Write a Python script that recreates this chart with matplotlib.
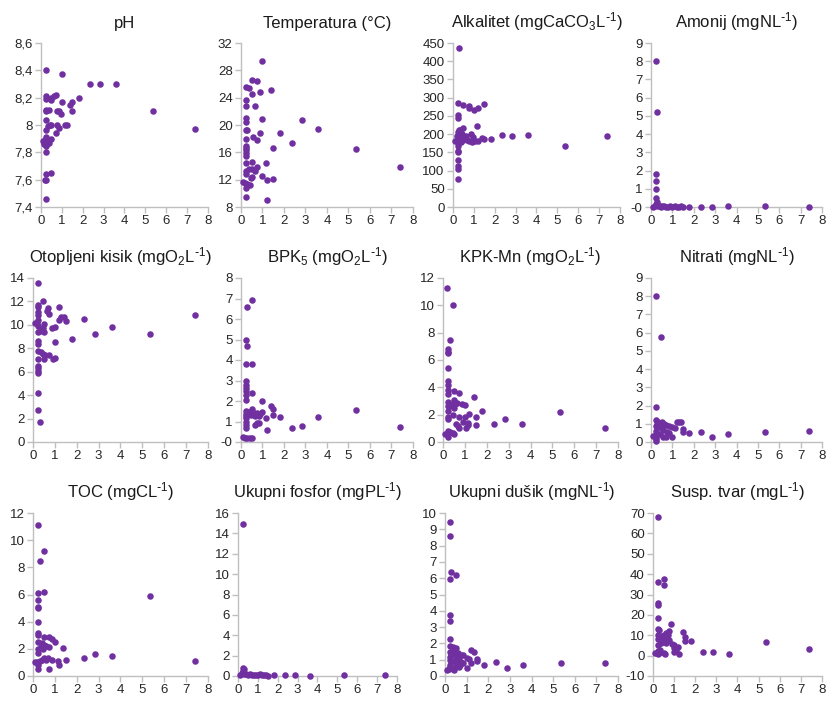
import matplotlib
matplotlib.use("Agg")
import matplotlib.pyplot as plt
from matplotlib.ticker import FuncFormatter, MultipleLocator

plt.rcParams['font.family'] = ['Liberation Sans', 'DejaVu Sans']
plt.rcParams['mathtext.default'] = 'regular'

PURPLE = "#7030A0"
GRID = "#BFBFBF"

# pH
ph_x = [0.25, 1.0, 2.35, 2.85, 3.6, 0.25, 0.25, 0.5, 0.6, 0.7, 0.5, 1.8, 1.0, 1.4, 1.5,
        0.25, 0.25, 0.4, 0.75, 0.85, 0.95, 1.5, 5.35, 0.25, 0.45, 0.5, 0.35, 0.75, 0.85, 1.15, 1.25,
        0.25, 0.7, 7.4, 0.1, 0.2, 0.25, 0.3, 0.4, 0.5, 0.25, 0.15, 0.25, 0.25, 0.5, 0.25, 0.2, 0.25]
ph_y = [8.40, 8.37, 8.30, 8.30, 8.30, 8.21, 8.19, 8.20, 8.21, 8.22, 8.18, 8.20, 8.17, 8.15, 8.17,
        8.11, 8.10, 8.11, 8.10, 8.10, 8.08, 8.10, 8.10, 8.04, 8.00, 8.00, 7.99, 8.00, 7.98, 8.00, 8.00,
        7.96, 7.94, 7.97, 7.88, 7.89, 7.91, 7.87, 7.87, 7.90, 7.85, 7.86, 7.80, 7.64, 7.65, 7.60, 7.60, 7.46]

# Temperatura
temp_x = [1.0, 0.5, 0.75, 0.25, 0.35, 1.4, 0.9, 0.5, 0.25, 0.25, 0.65, 0.25, 0.25, 1.0, 2.85, 3.6,
          0.25, 0.3, 0.9, 1.8, 0.55, 0.25, 0.75, 2.35, 0.25, 0.25, 0.25, 1.5, 5.35, 0.25, 0.25, 0.25,
          0.5, 1.15, 0.75, 7.4, 0.25, 0.35, 0.5, 0.65, 0.25, 0.5, 1.0, 0.45, 1.2, 1.5, 0.1, 0.2, 0.3,
          0.4, 0.25, 0.25, 1.2]
temp_y = [29.3, 26.6, 26.5, 25.5, 25.4, 25.1, 24.8, 24.5, 23.6, 22.8, 22.8, 21.0, 20.5, 20.9, 20.7, 19.4,
          19.3, 19.2, 18.9, 18.9, 18.3, 17.9, 17.8, 17.4, 17.0, 16.7, 16.3, 16.6, 16.5, 15.9, 15.5, 14.5,
          14.6, 14.5, 13.9, 13.8, 13.3, 13.5, 13.6, 13.2, 12.8, 12.4, 12.5, 12.2, 12.0, 12.1, 11.7, 11.5, 11.3,
          11.2, 10.8, 9.4, 9.0]

# Alkalitet
alk_x = [0.3, 0.25, 0.5, 0.75, 0.75, 1.0, 1.2, 1.5, 0.25, 0.25, 1.15, 0.5, 0.3, 0.25, 0.35, 0.45,
         0.6, 0.85, 0.95, 1.4, 2.35, 2.85, 3.6, 7.4, 0.1, 0.25, 0.35, 0.5, 0.65, 0.75, 0.9, 1.05,
         1.2, 1.5, 1.8, 0.25, 0.25, 5.35, 0.25, 0.25, 0.25, 0.25, 0.25, 0.25, 0.2, 0.4, 0.55]
alk_y = [435, 285, 280, 278, 272, 265, 272, 283, 252, 245, 222, 218, 212, 205, 210, 200,
         195, 200, 193, 190, 198, 195, 198, 195, 182, 185, 190, 183, 185, 180, 178, 180,
         180, 186, 186, 175, 168, 168, 155, 150, 128, 112, 105, 78, 195, 178, 190]

# Amonij
amo_x = [0.25, 0.27, 0.25, 0.25, 0.22, 0.25, 0.3, 0.25, 0.1, 0.2, 0.3, 0.35, 0.4, 0.45, 0.5,
         0.6, 0.7, 0.8, 0.9, 1.0, 1.1, 1.2, 1.3, 1.4, 1.5, 1.8, 2.35, 2.85, 3.6, 5.35, 7.4]
amo_y = [8.0, 5.2, 1.8, 1.45, 1.0, 0.5, 0.3, 0.15, 0.0, 0.05, 0.1, 0.05, 0.08, 0.02, 0.05,
         0.03, 0.0, 0.02, 0.05, 0.0, 0.03, 0.0, 0.02, 0.05, 0.0, 0.0, -0.02, -0.02, 0.08, 0.05, -0.02]

# Otopljeni kisik
o2_x = [0.25, 0.45, 0.25, 0.25, 0.7, 0.65, 1.2, 0.25, 0.75, 0.25, 1.3, 1.4, 7.4, 0.25, 0.1, 0.2,
        1.2, 1.5, 2.35, 0.5, 0.25, 1.0, 0.85, 3.6, 0.35, 0.45, 0.3, 0.5, 0.25, 2.85, 5.35, 1.8,
        1.0, 0.25, 0.25, 0.25, 0.35, 0.45, 0.55, 0.75, 0.5, 0.9, 1.0, 0.25, 0.25, 0.25, 0.25,
        0.25, 0.25, 0.25, 0.3]
o2_y = [13.6, 12.0, 11.7, 11.5, 11.4, 11.2, 11.5, 11.1, 10.9, 10.8, 10.7, 10.7, 10.85, 10.4, 10.2, 10.2,
        10.4, 10.3, 10.5, 10.1, 9.9, 9.8, 9.7, 9.8, 9.6, 9.7, 9.5, 9.4, 9.4, 9.2, 9.2, 8.8,
        8.5, 8.6, 8.4, 7.8, 7.7, 7.5, 7.4, 7.4, 7.1, 7.1, 7.2, 7.1, 6.5, 6.3, 6.1,
        5.9, 4.2, 2.7, 1.7]

# BPK5
bpk_x = [0.5, 0.3, 0.25, 0.28, 0.25, 0.5, 0.25, 0.25, 0.25, 0.25, 0.5, 0.25, 0.25, 1.0, 1.4, 0.25,
         0.5, 1.5, 5.35, 0.35, 0.6, 0.75, 0.9, 1.0, 0.25, 0.45, 0.65, 0.85, 1.5, 0.25, 1.15, 1.8,
         3.6, 0.25, 0.75, 0.85, 0.65, 0.25, 0.25, 2.35, 2.85, 7.4, 1.2, 0.1, 0.2, 0.3, 0.4, 0.5, 0.25]
bpk_y = [6.95, 6.6, 5.0, 4.7, 3.8, 3.8, 3.0, 2.8, 2.65, 2.5, 2.4, 2.3, 2.05, 2.0, 1.75, 1.5,
         1.6, 1.6, 1.55, 1.45, 1.4, 1.4, 1.35, 1.45, 1.35, 1.3, 1.25, 1.25, 1.3, 1.15, 1.15, 1.2,
         1.2, 1.0, 0.95, 0.95, 0.85, 0.85, 0.7, 0.7, 0.8, 0.75, 0.6, 0.25, 0.2, 0.2, 0.2, 0.2, 1.25]

# KPK-Mn
kpk_x = [0.2, 0.45, 0.3, 0.25, 0.25, 0.25, 0.25, 0.25, 0.25, 0.25, 0.5, 0.75, 0.25, 1.4, 0.5, 0.25,
         0.3, 0.55, 0.65, 0.85, 1.0, 0.25, 0.4, 0.5, 0.25, 1.8, 5.35, 1.2, 0.45, 0.25, 0.25, 0.75,
         1.5, 1.0, 2.85, 0.9, 1.15, 0.6, 0.7, 1.5, 1.15, 2.35, 3.6, 1.05, 0.75, 7.4, 0.25, 0.3,
         0.1, 0.2, 0.45, 0.5, 0.25]
kpk_y = [11.3, 10.0, 7.5, 6.8, 6.6, 6.5, 5.4, 4.5, 4.2, 3.8, 3.75, 3.6, 3.5, 3.3, 3.1, 2.9,
         2.8, 2.8, 2.85, 2.8, 2.7, 2.6, 2.6, 2.5, 2.3, 2.3, 2.2, 2.05, 2.0, 1.85, 1.7, 1.8,
         1.85, 1.8, 1.7, 1.5, 1.4, 1.3, 1.2, 1.25, 1.25, 1.3, 1.35, 1.05, 1.05, 1.0, 0.8, 0.7,
         0.6, 0.55, 0.65, 0.6, 0.35]

# Nitrati
nit_x = [0.25, 0.45, 0.25, 0.25, 0.35, 0.5, 0.45, 0.6, 0.7, 0.85, 1.0, 1.2, 1.3, 1.4, 1.1, 0.25,
         0.35, 0.5, 0.55, 0.25, 1.5, 1.5, 0.75, 0.4, 0.25, 0.1, 0.25, 0.55, 0.7, 1.0, 0.25, 0.25,
         1.8, 2.35, 2.85, 3.6, 5.35, 7.4, 0.85, 0.3]
nit_y = [8.0, 5.75, 1.9, 1.2, 1.1, 1.1, 1.0, 1.0, 0.95, 0.9, 0.85, 1.1, 1.1, 1.1, 0.75, 0.9,
         0.8, 0.75, 0.65, 0.6, 0.7, 0.55, 0.55, 0.45, 0.45, 0.35, 0.3, 0.3, 0.3, 0.3, 0.15, 0.05,
         0.5, 0.55, 0.25, 0.42, 0.55, 0.62, 0.5, 1.0]

# TOC
toc_x = [0.25, 0.5, 0.3, 0.25, 0.5, 5.35, 0.25, 0.25, 0.25, 0.25, 0.25, 0.25, 0.5, 0.75, 0.85, 1.0,
         0.25, 0.4, 0.5, 0.6, 0.35, 0.45, 0.25, 0.75, 1.35, 0.25, 2.85, 3.6, 0.5, 0.6, 0.7, 0.85,
         1.5, 2.35, 1.15, 0.1, 0.2, 0.3, 0.4, 7.4, 0.25, 1.2, 0.25, 0.75]
toc_y = [11.1, 9.2, 8.5, 6.1, 6.2, 5.9, 5.6, 5.05, 5.0, 4.0, 3.15, 3.0, 2.9, 2.85, 2.7, 2.5,
         2.5, 2.4, 2.3, 2.2, 2.1, 2.0, 2.0, 2.1, 2.05, 1.7, 1.6, 1.5, 1.3, 1.2, 1.3, 1.2,
         1.2, 1.3, 1.1, 1.0, 1.0, 1.1, 1.15, 1.1, 0.8, 0.8, 0.5, 0.5]

# Ukupni fosfor
fos_x = [0.25, 0.25, 0.3, 0.25, 0.2, 0.1, 0.3, 0.4, 0.5, 0.6, 0.7, 0.8, 0.9, 1.0, 1.1, 1.2,
         1.3, 1.4, 1.5, 1.8, 2.35, 2.85, 3.6, 5.35, 7.4]
fos_y = [14.9, 0.8, 0.7, 0.45, 0.3, 0.05, 0.15, 0.2, 0.1, 0.15, 0.05, 0.1, 0.05, 0.1, 0.15, 0.05,
         0.1, 0.05, 0.0, 0.05, 0.05, 0.05, 0.0, 0.05, 0.05]

# Ukupni dusik
dus_x = [0.25, 0.25, 0.3, 0.5, 0.25, 0.25, 0.25, 0.25, 0.25, 0.35, 0.5, 1.2, 1.35, 0.25, 0.4, 0.6,
         0.75, 0.85, 0.3, 0.5, 0.25, 0.65, 1.0, 1.1, 1.5, 1.5, 0.25, 0.4, 0.55, 0.75, 0.85, 1.2,
         2.35, 5.35, 7.4, 0.25, 0.5, 0.65, 1.8, 3.6, 1.0, 2.85, 0.1, 0.2, 0.35, 0.4, 0.25, 0.7]
dus_y = [9.45, 8.6, 6.35, 6.2, 5.95, 3.75, 3.4, 2.25, 1.85, 1.75, 1.7, 1.6, 1.45, 1.5, 1.45, 1.4,
         1.3, 1.3, 1.3, 1.2, 1.15, 1.1, 1.1, 1.05, 1.05, 0.95, 1.0, 0.95, 0.9, 0.85, 0.8, 0.8,
         0.85, 0.8, 0.8, 0.7, 0.65, 0.55, 0.65, 0.65, 0.5, 0.5, 0.35, 0.4, 0.45, 0.35, 0.55, 0.7]

# Susp. tvar
sus_x = [0.25, 0.5, 0.25, 0.5, 0.25, 0.25, 0.25, 0.25, 0.3, 0.85, 0.75, 1.4, 0.6, 0.5, 0.7, 0.25,
         0.4, 0.3, 0.6, 1.5, 0.25, 0.5, 0.75, 1.5, 1.8, 0.4, 0.6, 0.9, 1.0, 1.2, 0.25, 5.35,
         1.0, 1.1, 7.4, 0.35, 0.25, 1.0, 2.35, 2.85, 0.1, 0.2, 0.3, 0.5, 1.25, 3.6, 0.25, 0.55]
sus_y = [68, 37.5, 36, 34.5, 26, 25, 18.5, 13, 12.5, 15.5, 12, 11.5, 11, 10, 10, 10,
         9.5, 9, 8.5, 9, 8, 7.5, 7.5, 7, 7, 6, 6, 5.5, 5, 4, 5, 6.5,
         3.5, 3, 3.2, 3, 2.5, 2, 2, 2, 1.5, 1.5, 1.2, 1.2, 1, 1, 0.8, 1.0]

SUP = r"$^{\text{-}1}$"
titles = ["pH", "Temperatura (°C)", "Alkalitet (mgCaCO$_3$L" + SUP + ")", "Amonij (mgNL" + SUP + ")",
          "Otopljeni kisik (mgO$_2$L" + SUP + ")", "BPK$_5$ (mgO$_2$L" + SUP + ")",
          "KPK-Mn (mgO$_2$L" + SUP + ")", "Nitrati (mgNL" + SUP + ")", "TOC (mgCL" + SUP + ")",
          "Ukupni fosfor (mgPL" + SUP + ")", "Ukupni dušik (mgNL" + SUP + ")", "Susp. tvar (mgL" + SUP + ")"]
xs = [ph_x, temp_x, alk_x, amo_x, o2_x, bpk_x, kpk_x, nit_x, toc_x, fos_x, dus_x, sus_x]
ys = [ph_y, temp_y, alk_y, amo_y, o2_y, bpk_y, kpk_y, nit_y, toc_y, fos_y, dus_y, sus_y]
ylims = [(7.4, 8.6), (8, 32), (0, 450), (0, 9), (0, 14), (0, 8), (0, 12), (0, 9),
         (0, 12), (0, 16), (0, 10), (-10, 70)]
ysteps = [0.2, 4, 50, 1, 2, 1, 2, 1, 2, 2, 1, 10]

# plot area boxes in pixels: left, right, top, bottom
W, H = 828, 702
boxes = [(41, 208, 43, 207), (241, 413, 43, 207), (453, 620, 43, 207), (651, 822, 43, 207),
         (33, 208, 278, 442), (241, 413, 278, 442), (443, 618, 278, 442), (651, 822, 278, 442),
         (33, 208, 513, 676), (238, 397, 513, 676), (445, 618, 513, 676), (653, 822, 513, 676)]

fig = plt.figure(figsize=(W / 100, H / 100), dpi=100)


def fmt(v, pos, neg_zero=False):
    if abs(v) < 1e-9:
        return "-0" if neg_zero else "0"
    return f"{v:g}".replace(".", ",")


for i in range(12):
    l, r, t, b = boxes[i]
    ax = fig.add_axes([l / W, 1 - b / H, (r - l) / W, (b - t) / H])
    ax.scatter(xs[i], ys[i], s=22, color=PURPLE, linewidths=0, zorder=3, clip_on=False)
    ax.set_xlim(0, 8)
    ax.set_ylim(*ylims[i])
    ax.xaxis.set_major_locator(MultipleLocator(1))
    ax.yaxis.set_major_locator(MultipleLocator(ysteps[i]))
    nz = i in (3, 5)
    ax.yaxis.set_major_formatter(FuncFormatter(lambda v, p, nz=nz: fmt(v, p, nz)))
    ax.xaxis.set_major_formatter(FuncFormatter(lambda v, p: fmt(v, p)))
    for s in ("top", "right"):
        ax.spines[s].set_visible(False)
    for s in ("left", "bottom"):
        ax.spines[s].set_color(GRID)
        ax.spines[s].set_linewidth(1)
    ax.tick_params(direction="out", length=4, width=1, color=GRID, labelsize=9.5,
                   labelcolor="#262626", pad=2)
    ax.set_title(titles[i], fontsize=12, pad=11, color="#1a1a1a")

fig.savefig("out.png", dpi=100)
